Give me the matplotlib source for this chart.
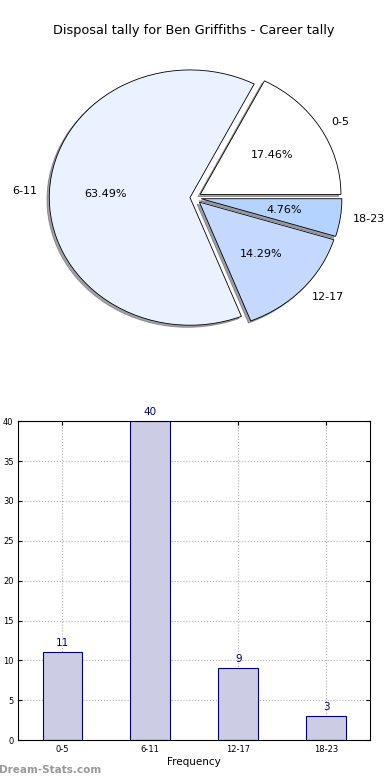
import matplotlib
matplotlib.use("Agg")
import matplotlib.pyplot as plt
import numpy as np

categories = ["0-5", "6-11", "12-17", "18-23"]
counts = [11, 40, 9, 3]
pie_colors = ["#ffffff", "#eaf1ff", "#c5d9ff", "#b4d4ff"]
explode = [0.05, 0.03, 0.05, 0.05]
title = "Disposal tally for Ben Griffiths - Career tally"

fig = plt.figure(figsize=(3.9, 7.8), dpi=100)
fig.subplots_adjust(left=0.047, right=0.949, bottom=0.051, top=0.951, hspace=0.2)

ax1 = fig.add_subplot(211)
wedges, texts, autotexts = ax1.pie(
    counts, labels=categories, colors=pie_colors, explode=explode,
    autopct="%1.2f%%", shadow=dict(ox=-0.012, oy=-0.012), startangle=0,
    counterclock=True, labeldistance=1.09,
    wedgeprops=dict(edgecolor="black", linewidth=0.6),
    textprops=dict(fontsize=8))
ax1.set_aspect("auto")
ax1.set_xlim(-1.25, 1.25)
ax1.set_ylim(-1.25, 1.25)
ax1.set_title(title, fontsize=9.3, pad=3)

ax2 = fig.add_subplot(212)
x = np.arange(len(categories))
bars = ax2.bar(x, counts, width=0.45, color="#ccccE4", edgecolor="#000080",
               linewidth=0.8, zorder=2)
for xi, c in zip(x, counts):
    ax2.text(xi, c + 0.5, str(c), ha="center", va="bottom", color="#000080",
             fontsize=7.5)
ax2.set_xlim(-0.5, 3.5)
ax2.set_ylim(0, 40)
ax2.set_yticks(np.arange(0, 41, 5))
ax2.set_xticks(x)
ax2.set_xticklabels(categories)
ax2.tick_params(axis="both", labelsize=6, direction="in", top=True, right=True, length=3)
ax2.grid(True, linestyle=":", color="#b0b0b0", linewidth=0.8, zorder=0)
ax2.set_axisbelow(True)
ax2.set_xlabel("Frequency", fontsize=7.5, labelpad=2)

fig.text(-0.003, 0.006, "Dream-Stats.com", color="#999999", fontsize=7.5,
         fontweight="bold", ha="left", va="bottom")

fig.savefig("out.png", dpi=100)
